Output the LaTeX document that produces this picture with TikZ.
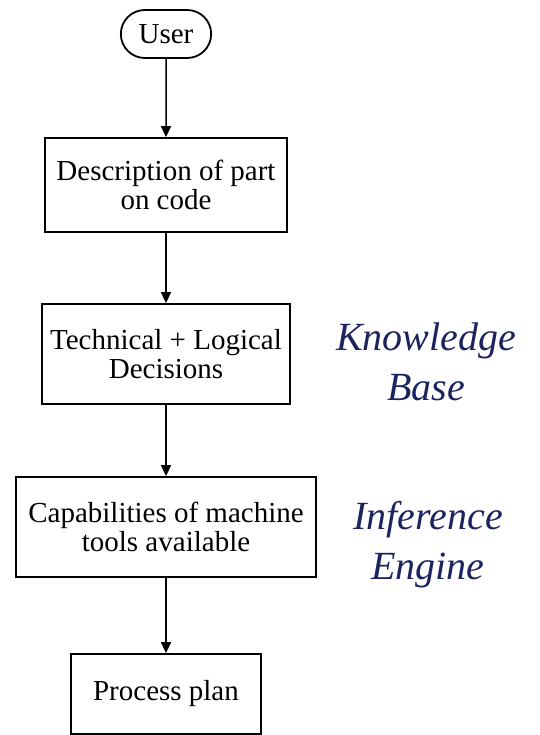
\documentclass[tikz,border=0pt]{standalone}
\usepackage{fontspec}
\setmainfont{Liberation Serif}
\usepackage{tikz}
\usetikzlibrary{arrows, arrows.meta, shapes}
\tikzset{
  node distance=160pt,
  every node/.style={align=center}
}
\definecolor{ink}{RGB}{28,36,96}

\begin{document}
\begin{tikzpicture}
\tikzstyle{terminal}=[rounded rectangle, draw, line width=1.8pt,
  minimum width=97pt, minimum height=48pt, font=\fontsize{29}{29}\selectfont]
\tikzstyle{stage}=[rectangle, draw, line width=1.8pt, inner sep=2pt,
  font=\fontsize{29}{29}\selectfont]
\tikzstyle{flow}=[-{Triangle[length=11pt, width=10pt]}, draw, line width=1.5pt]
\tikzstyle{note}=[text=ink, font=\fontsize{40}{50}\selectfont\itshape]

\useasboundingbox (-166pt,34pt) rectangle (373pt,-701pt);

% input
\node[terminal](user){User};

% planning stages
\node[stage, below of=user, node distance=151pt, minimum width=242pt,
  minimum height=94pt](descr){Description of part\\on code};
\node[stage, below of=descr, node distance=169pt, minimum width=248pt,
  minimum height=100pt](decide){Technical + Logical\\Decisions};
\node[stage, below of=decide, node distance=173pt, minimum width=300pt,
  minimum height=100pt](capab){Capabilities of machine\\tools available};
\node[stage, below of=capab, node distance=167pt, minimum width=190pt,
  minimum height=80pt](plan){Process plan};

\draw[flow](user) to (descr);
\draw[flow](descr) to (decide);
\draw[flow](decide) to (capab);
\draw[flow](capab) to (plan);

% side notes
\node[note, right of=decide, node distance=260pt, yshift=-8pt](kb){Knowledge\\Base};
\node[note, right of=capab, node distance=262pt, yshift=-18pt](ie){Inference\\Engine};

\end{tikzpicture}
\end{document}
